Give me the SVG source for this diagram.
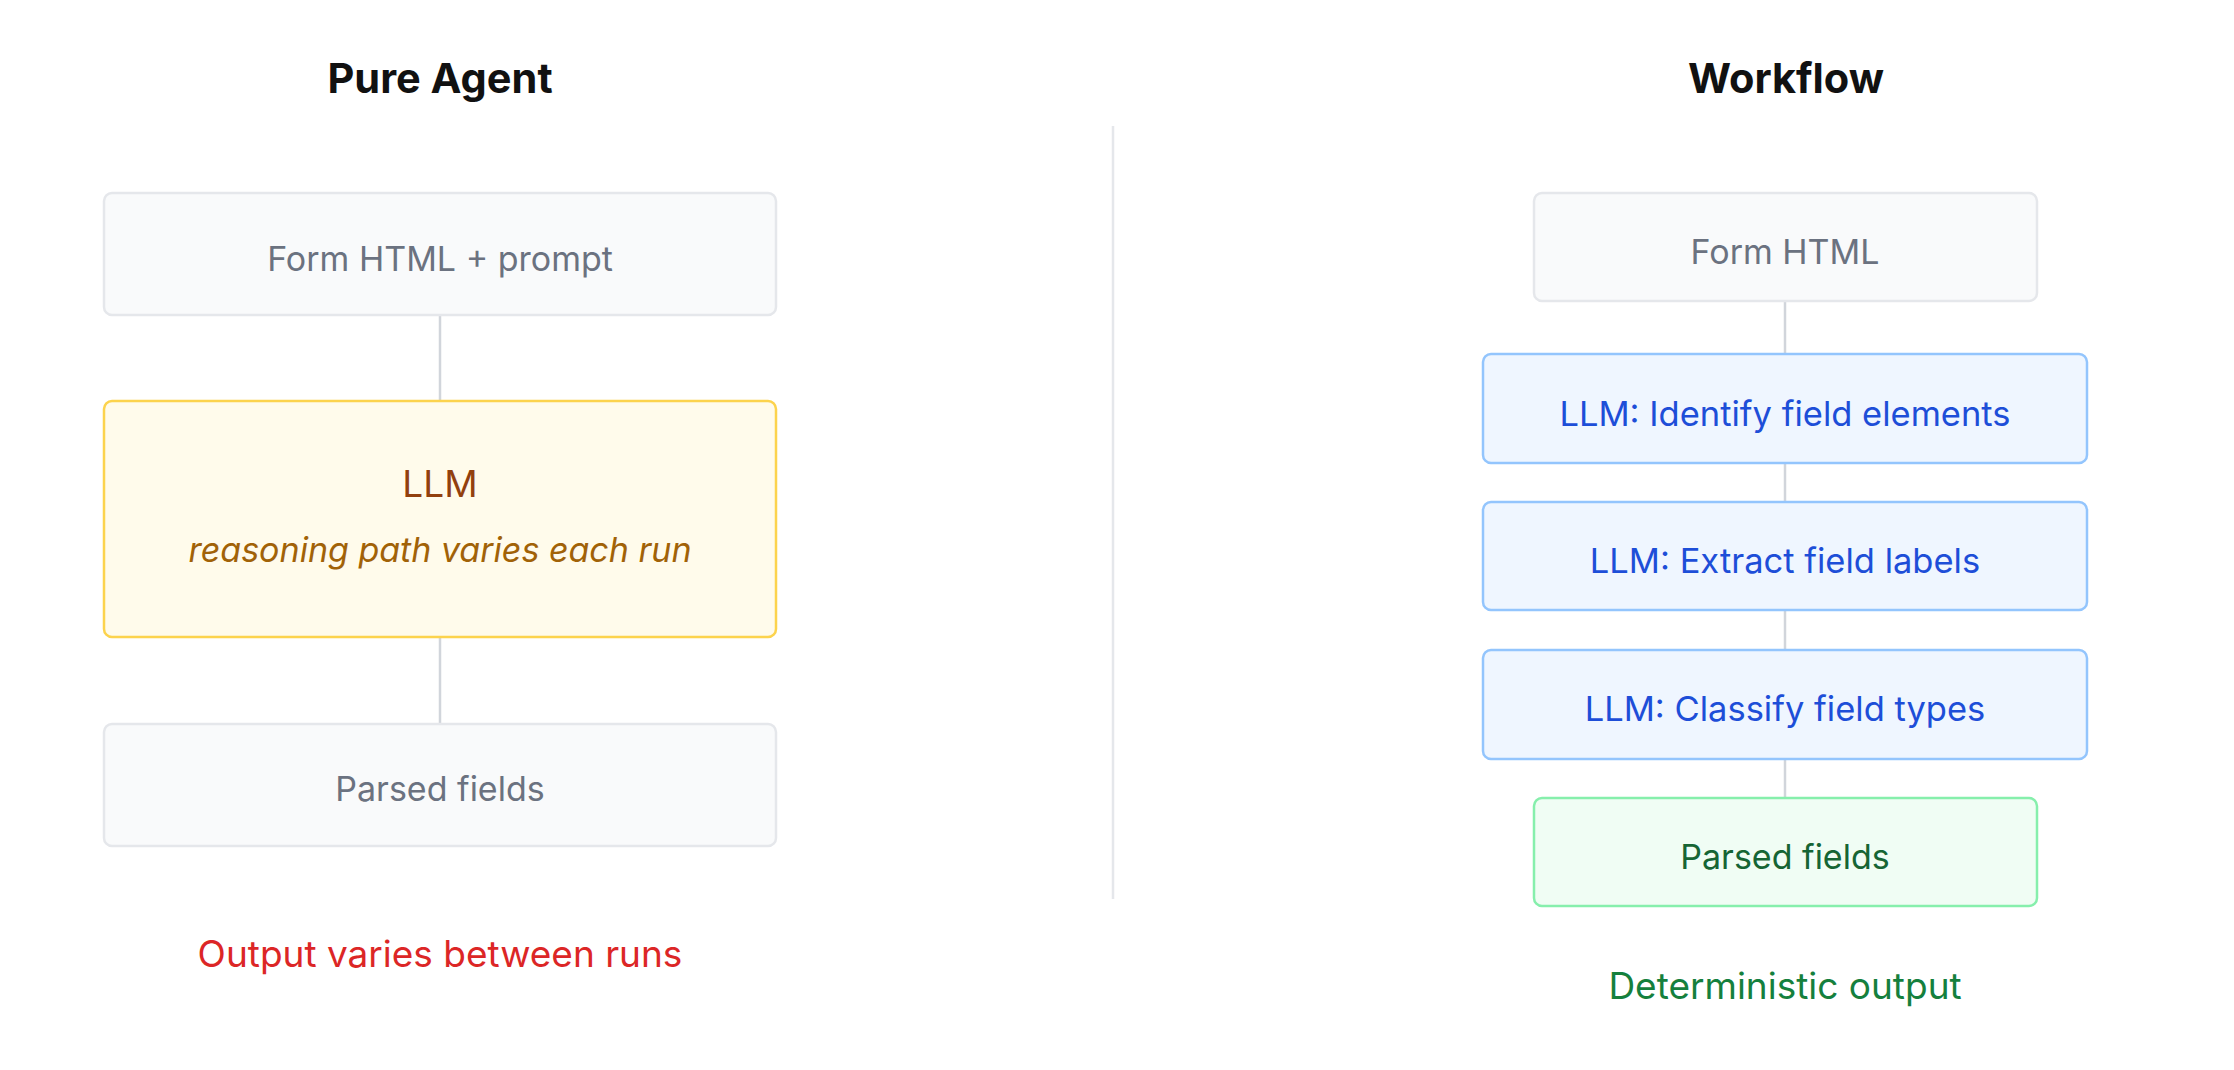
<svg xmlns="http://www.w3.org/2000/svg" width="2234" height="1070" viewBox="0 0 2234 1070">
<style>
text{font-family:Inter,"Noto Sans","Liberation Sans",sans-serif;text-anchor:middle}
.title{font-size:41.5px;font-weight:700;fill:#111111}
.lbl{font-size:34px}
.note{font-size:37px}
.gray rect{fill:#f9fafb;stroke:#e5e7eb;stroke-width:2.5}
.gray text{fill:#6b7280}
.yellow rect{fill:#fffbeb;stroke:#fcd34d;stroke-width:2.5}
.blue rect{fill:#eff6ff;stroke:#93c5fd;stroke-width:2.5}
.blue text{fill:#1d4ed8;font-size:34.5px}
.green rect{fill:#f0fdf4;stroke:#86efac;stroke-width:2.5}
.green text{fill:#166534}
.conn line{stroke:#d1d5db;stroke-width:2.5}
</style>
<rect width="2234" height="1070" fill="#ffffff"/>
<text class="title" x="440" y="93">Pure Agent</text>
<text class="title" x="1786" y="93">Workflow</text>
<line x1="1113" y1="126" x2="1113" y2="899" stroke="#e5e7eb" stroke-width="2.5"/>
<g id="connectors" class="conn">
<line x1="440" y1="315" x2="440" y2="401"/>
<line x1="440" y1="637" x2="440" y2="724"/>
<line x1="1785" y1="301" x2="1785" y2="354"/>
<line x1="1785" y1="463" x2="1785" y2="502"/>
<line x1="1785" y1="610" x2="1785" y2="650"/>
<line x1="1785" y1="759" x2="1785" y2="798"/>
</g>
<g id="a_input" class="gray">
<rect x="104" y="193" width="672" height="122" rx="8"/>
<text class="lbl" x="440" y="271">Form HTML + prompt</text>
</g>
<g id="a_llm" class="yellow">
<rect x="104" y="401" width="672" height="236" rx="8"/>
<text x="440" y="497" font-size="37" fill="#92400e">LLM</text>
<text class="lbl" x="440" y="562" font-style="italic" fill="#a16207">reasoning path varies each run</text>
</g>
<g id="a_output" class="gray">
<rect x="104" y="724" width="672" height="122" rx="8"/>
<text class="lbl" x="440" y="801">Parsed fields</text>
</g>
<text id="a_note" class="note" x="440" y="967" fill="#dc2626">Output varies between runs</text>
<g id="w_input" class="gray">
<rect x="1534" y="193" width="503" height="108" rx="8"/>
<text class="lbl" x="1785" y="264">Form HTML</text>
</g>
<g id="w_identify" class="blue">
<rect x="1483" y="354" width="604" height="109" rx="8"/>
<text x="1785" y="426">LLM: Identify field elements</text>
</g>
<g id="w_extract" class="blue">
<rect x="1483" y="502" width="604" height="108" rx="8"/>
<text x="1785" y="573">LLM: Extract field labels</text>
</g>
<g id="w_classify" class="blue">
<rect x="1483" y="650" width="604" height="109" rx="8"/>
<text x="1785" y="721">LLM: Classify field types</text>
</g>
<g id="w_output" class="green">
<rect x="1534" y="798" width="503" height="108" rx="8"/>
<text class="lbl" x="1785" y="869">Parsed fields</text>
</g>
<text id="w_note" class="note" x="1785" y="999" fill="#15803d">Deterministic output</text>
</svg>
